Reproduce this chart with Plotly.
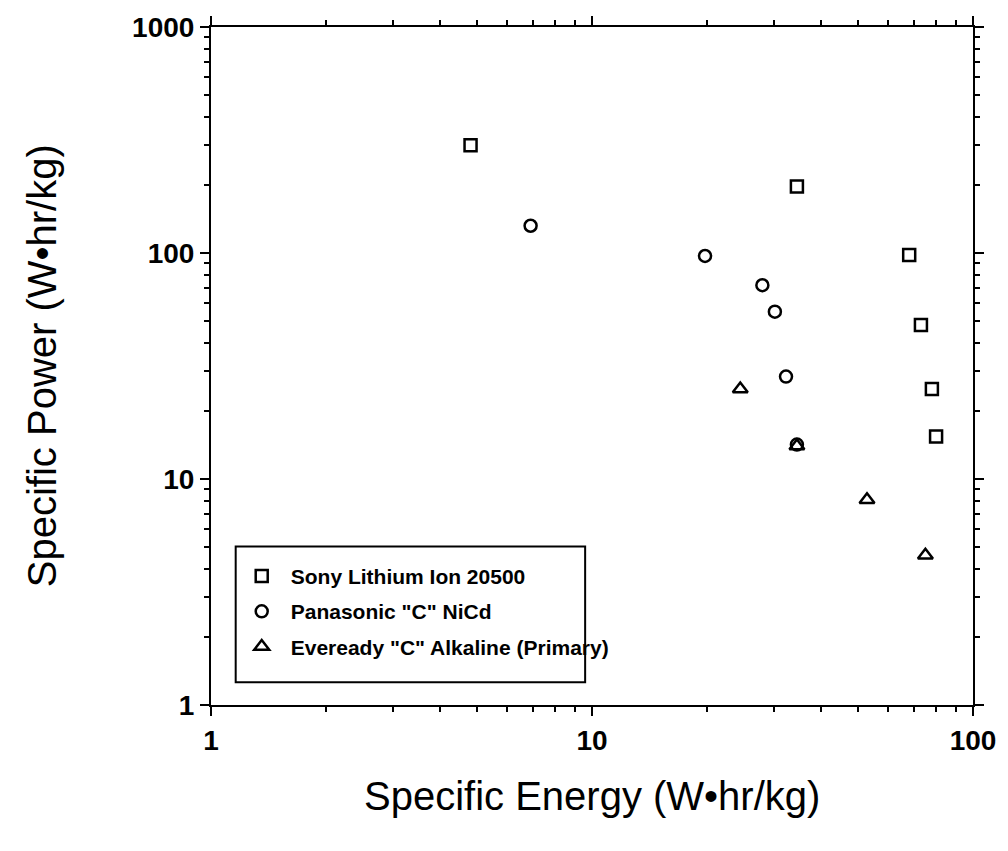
import plotly.graph_objects as go

# Data (log-log)
sony_energy = [4.8, 34.5, 68, 73, 78, 80]
sony_power = [300, 197, 98, 48, 25, 15.4]

pana_energy = [6.9, 19.8, 28, 30.2, 32.3, 34.5]
pana_power = [132, 97, 72, 55, 28.4, 14.2]

ever_energy = [24.5, 34.5, 52.7, 75]
ever_power = [25, 14, 8.1, 4.6]

x_ticks = [1, 10, 100]
y_ticks = [1, 10, 100, 1000]
minor_x = [m * d for d in (1, 10) for m in range(2, 10)]
minor_y = [m * d for d in (1, 10, 100) for m in range(2, 10)]

FONT = "Liberation Sans"
mk_line = dict(color="black", width=2.5)

fig = go.Figure()
fig.add_trace(go.Scatter(x=sony_energy, y=sony_power, mode="markers",
                         name="Sony Lithium Ion 20500", legendgroup="a",
                         marker=dict(symbol="square-open", size=12, color="black", line=mk_line)))
fig.add_trace(go.Scatter(x=pana_energy, y=pana_power, mode="markers",
                         name='Panasonic "C" NiCd', legendgroup="b",
                         marker=dict(symbol="circle-open", size=12, color="black", line=mk_line)))
fig.add_trace(go.Scatter(x=ever_energy, y=ever_power, mode="markers",
                         name='Eveready "C" Alkaline (Primary)', legendgroup="c",
                         marker=dict(symbol="triangle-up-open", size=13, color="black", line=mk_line)))

axis_common = dict(
    type="log", showgrid=False, zeroline=False,
    showline=True, linecolor="black", linewidth=2, mirror="allticks",
    ticks="outside", ticklen=9, tickwidth=2, tickcolor="black",
    tickfont=dict(family=FONT, size=28, color="black", weight="bold"),
)

fig.update_xaxes(**axis_common, range=[0, 2], tickvals=x_ticks, ticktext=[str(v) for v in x_ticks],
                 minor=dict(tickvals=minor_x, ticks="outside", ticklen=5, tickwidth=2, tickcolor="black"))
fig.update_yaxes(**axis_common, range=[0, 3], tickvals=y_ticks, ticktext=[str(v) for v in y_ticks],
                 minor=dict(tickvals=minor_y, ticks="outside", ticklen=5, tickwidth=2, tickcolor="black"))

fig.add_annotation(text="Specific Energy (W•hr/kg)", xref="paper", yref="paper", x=0.5, y=-0.134,
                   yanchor="middle", showarrow=False,
                   font=dict(family=FONT, size=40, color="black"))
fig.add_annotation(text="Specific Power (W•hr/kg)", xref="paper", yref="paper", x=-0.2215, y=0.5,
                   xanchor="center", yanchor="middle", textangle=-90, showarrow=False,
                   font=dict(family=FONT, size=40, color="black"))

# legend frame
fig.add_shape(type="rect", xref="paper", yref="paper",
              x0=0.0324, x1=0.491, y0=0.0336, y1=0.2336,
              line=dict(color="black", width=2), fillcolor="white", layer="above")

fig.update_layout(
    width=1008, height=851,
    margin=dict(l=211, r=25, t=20, b=146),
    plot_bgcolor="white", paper_bgcolor="white",
    showlegend=True,
    legend=dict(x=0.0285, y=0.220, xanchor="left", yanchor="top",
                bgcolor="rgba(0,0,0,0)", borderwidth=0,
                font=dict(family=FONT, size=21, color="black", weight="bold"),
                itemwidth=48, tracegroupgap=5),
)

fig.write_html("out.html")
